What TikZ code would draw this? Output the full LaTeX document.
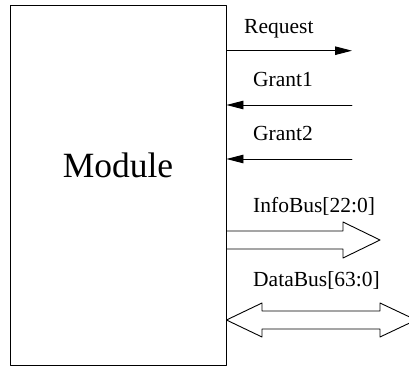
\documentclass[tikz,border=0pt]{standalone}
\usepackage{fontspec}
\setmainfont{Liberation Serif}
\usetikzlibrary{arrows.meta}
\tikzset{
  wire/.style={line width=0.9pt, line join=round},
  sig/.style={wire, -{Triangle[length=17pt,width=8.5pt]}},
  lbl/.style={anchor=base west, inner sep=0pt, font=\fontsize{21.5}{24}\selectfont},
}
\begin{document}
\begin{tikzpicture}[x=1pt, y=-1pt, line cap=round]
\clip (0,0) rectangle (409,366);
\node[draw, wire, minimum width=216pt, minimum height=360pt, inner sep=0pt] (module) at (118,185.5) {};
\node[anchor=base, inner sep=0pt, font=\fontsize{35.5}{40}\selectfont] (modname) at (118,177) {Module};

% single signals
\coordinate (req) at (352,50.7);
\coordinate (gnt1) at (352,105);
\coordinate (gnt2) at (352,159);
\draw[sig] (module.east |- req) -- (req);
\foreach \g in {gnt1,gnt2}
    \draw[sig] (\g) -- (module.east |- \g);

\node[lbl] (reqtext) at (244,34) {Request};
\node[lbl] (gnt1text) at (253,87) {Grant1};
\node[lbl] (gnt2text) at (253,141) {Grant2};

% buses
\coordinate (info) at (380,240);
\coordinate (data) at (416,320);
\draw[wire] (module.east |- 0,231) -- (343,231) -- (343,222) -- (info)
    -- (343,258) -- (343,249) -- (module.east |- 0,249);
\draw[wire] (module.east |- data) -- (262,303) -- (262,311) -- (380,311) -- (380,303) -- (data)
    -- (380,337) -- (380,329) -- (262,329) -- (262,337) -- cycle;

\node[lbl] (infotext) at (253,212) {InfoBus[22:0]};
\node[lbl] (datatext) at (253,286) {DataBus[63:0]};
\end{tikzpicture}
\end{document}
